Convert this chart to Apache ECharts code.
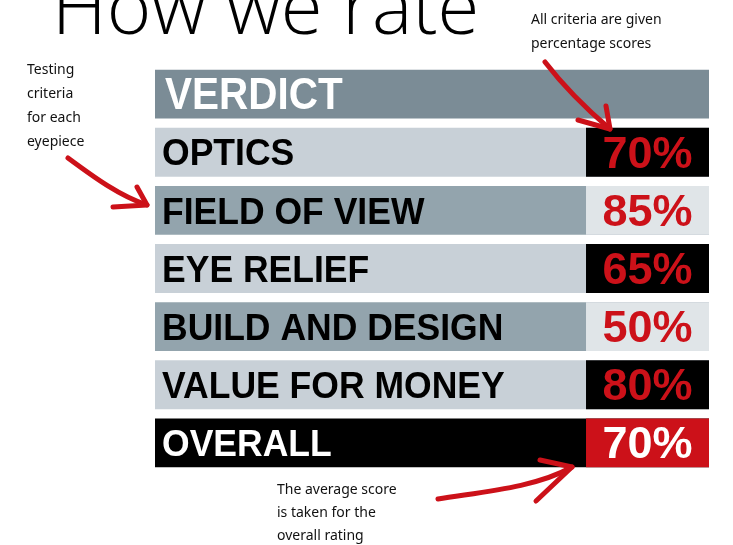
<!DOCTYPE html>
<html>
<head>
<meta charset="utf-8">
<script src="https://cdn.jsdelivr.net/npm/echarts@6/dist/echarts.min.js"></script>
<style>
  html, body { margin: 0; padding: 0; background: #fff; }
  #chart { width: 733px; height: 545px; }
</style>
</head>
<body>
<div id="chart"></div>
<script>
  // table data
  const headerLabel = 'VERDICT'
  const criteria = ['OPTICS', 'FIELD OF VIEW', 'EYE RELIEF', 'BUILD AND DESIGN', 'VALUE FOR MONEY', 'OVERALL']
  const scores = [70, 85, 65, 50, 80, 70]

  const titleText = 'How we rate'
  const noteTop = ['All criteria are given', 'percentage scores']
  const noteLeft = ['Testing', 'criteria', 'for each', 'eyepiece']
  const noteBottom = ['The average score', 'is taken for the', 'overall rating']

  const RED = '#cc1119'
  const SPLIT = 0.778
  const HAND = '"Noto Sans", sans-serif'

  const rows = [headerLabel].concat(criteria)
  const seriesData = rows.map((name, i) => [i, i === 0 ? null : scores[i - 1]])

  function rowStyle(i) {
    if (i === 0) return { bg: '#7b8c96', box: '#7b8c96', text: '#fff', num: '#fff' }
    if (i === rows.length - 1) return { bg: '#000', box: RED, text: '#fff', num: '#fff' }
    if (i % 2 === 1) return { bg: '#c8d0d7', box: '#000', text: '#000', num: RED }
    return { bg: '#93a4ad', box: '#e0e5e8', text: '#000', num: RED }
  }

  function renderRow(params, api) {
    const idx = api.value(0)
    const left = api.coord([0, idx])
    const right = api.coord([1, idx])
    const mid = api.coord([SPLIT, idx])
    const band = api.size([0, 1])[1]
    const h = band * 0.84
    const top = left[1] - h / 2
    const s = rowStyle(idx)
    const children = [
      { type: 'rect', shape: { x: left[0], y: top, width: right[0] - left[0], height: h }, style: { fill: s.bg } }
    ]
    if (idx === 0) {
      children.push({
        type: 'text', x: left[0] + 10, y: left[1] + 3, scaleX: 0.92,
        style: { text: rows[idx], fill: s.text,
          font: 'bold 44px "Liberation Sans", sans-serif', verticalAlign: 'middle' }
      })
    } else {
      children.push(
        { type: 'rect', shape: { x: mid[0], y: top, width: right[0] - mid[0], height: h }, style: { fill: s.box } },
        { type: 'text', x: left[0] + 7, y: left[1] + 3, scaleX: 0.96,
          style: { text: rows[idx], fill: s.text,
            font: 'bold 37px "Liberation Sans", sans-serif', verticalAlign: 'middle' } },
        { type: 'text', x: (mid[0] + right[0]) / 2, y: left[1] + 3,
          style: { text: api.value(1) + '%', fill: s.num,
            font: 'bold 45px "Liberation Sans", sans-serif', align: 'center', verticalAlign: 'middle' } }
      )
    }
    return { type: 'group', children }
  }

  function noteLines(lines, x, y0, step) {
    return lines.map((t, i) => ({
      type: 'text', x: x, y: y0 + i * step, z: 10,
      style: { text: t, font: '14px ' + HAND, fill: '#111', verticalAlign: 'middle' }
    }))
  }

  function arrow(start, cp1, cp2, tip, headA, headB) {
    const st = { stroke: RED, lineWidth: 5, lineCap: 'round', lineJoin: 'round', fill: null }
    return [
      { type: 'bezierCurve', z: 10, shape: { x1: start[0], y1: start[1], cpx1: cp1[0], cpy1: cp1[1], cpx2: cp2[0], cpy2: cp2[1], x2: tip[0], y2: tip[1] }, style: st },
      { type: 'polyline', z: 10, shape: { points: [headA, tip, headB] }, style: st }
    ]
  }

  const myChart = echarts.init(document.getElementById('chart'))

  myChart.setOption({
    animation: false,
    backgroundColor: '#fff',
    grid: { left: 155, right: 24, top: 65, bottom: 73 },
    xAxis: { type: 'value', min: 0, max: 1, show: false },
    yAxis: { type: 'category', data: rows, inverse: true, show: false },
    series: [{
      type: 'custom',
      renderItem: renderRow,
      encode: { y: 0, x: 1 },
      data: seriesData
    }],
    graphic: [
      { type: 'text', x: 52, y: 12, z: 10,
        style: { text: titleText, font: '300 76px "Open Sans", sans-serif', fill: '#000', verticalAlign: 'middle' } }
    ]
      .concat(noteLines(noteTop, 531, 20, 24))
      .concat(noteLines(noteLeft, 27, 70, 24))
      .concat(noteLines(noteBottom, 277, 490, 23))
      .concat(arrow([545, 62], [565, 88], [590, 112], [610, 129], [578, 120], [606, 106]))
      .concat(arrow([68, 158], [95, 178], [120, 196], [147, 205], [113, 207], [137, 187]))
      .concat(arrow([438, 499], [480, 492], [535, 488], [572, 467], [540, 460], [536, 501]))
  })
</script>
</body>
</html>
